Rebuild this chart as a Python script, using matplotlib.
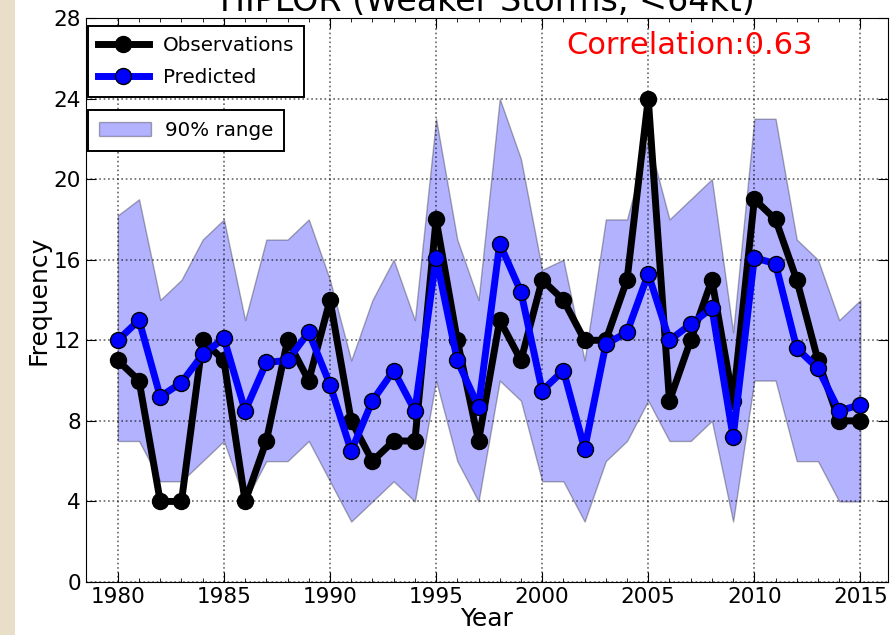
import matplotlib
matplotlib.use("Agg")
from matplotlib import pyplot as plt
from matplotlib.patches import Rectangle

years = list(range(1980, 2016))

observed = [11, 10, 4, 4, 12, 11, 4, 7, 12, 10,
            14, 8, 6, 7, 7, 18, 12, 7, 13, 11,
            15, 14, 12, 12, 15, 24, 9, 12, 15, 9,
            19, 18, 15, 11, 8, 8]

predicted = [12.0, 13.0, 9.2, 9.9, 11.3, 12.1, 8.5, 10.9, 11.0, 12.4,
             9.8, 6.5, 9.0, 10.5, 8.5, 16.1, 11.0, 8.7, 16.8, 14.4,
             9.5, 10.5, 6.6, 11.8, 12.4, 15.3, 12.0, 12.8, 13.6, 7.2,
             16.1, 15.8, 11.6, 10.6, 8.5, 8.8]

upper = [18.2, 19, 14, 15, 17, 18, 13, 17, 17, 18,
         15, 11, 14, 16, 13, 23, 17, 14, 24, 21,
         15.5, 16, 11, 18, 18, 22, 18, 19, 20, 12.4,
         23, 23, 17, 16, 13, 14]

lower = [7, 7, 5, 5, 6, 7, 4, 6, 6, 7,
         5, 3, 4, 5, 4, 10, 6, 4, 10, 9,
         5, 5, 3, 6, 7, 9, 7, 7, 8, 3,
         10, 10, 6, 6, 4, 4]

fig = plt.figure(figsize=(8.91, 6.35), dpi=100, facecolor='white')
# beige strip on the left edge of the screenshot
fig.patches.append(Rectangle((0, 0), 15 / 891, 1, transform=fig.transFigure,
                             facecolor='#e9dfc9', edgecolor='none', zorder=-1))

ax = fig.add_axes([86 / 891, 1 - 582 / 635, (888 - 86) / 891, (582 - 18) / 635])

band = ax.fill_between(years, lower, upper, facecolor='blue', edgecolor='k',
                       alpha=0.3, linewidth=1, zorder=1, label='90% range')
l1, = ax.plot(years, observed, color='k', lw=5, marker='o', ms=11.5,
              mec='k', mfc='k', zorder=3, label='Observations')
l2, = ax.plot(years, predicted, color='blue', lw=5, marker='o', ms=11.5,
              mec='k', mfc='blue', zorder=4, label='Predicted')

ax.set_xlim(1978.5, 2016.3)
ax.set_ylim(0, 28)
ax.set_xticks(range(1980, 2016, 5))
ax.set_xticks(years, minor=True)
ax.set_yticks(range(0, 29, 4))
ax.tick_params(which='both', direction='in', top=True, right=True)
ax.tick_params(which='major', length=7, labelsize=15.5)
ax.tick_params(which='minor', length=3)
ax.grid(True, color='k', linestyle=':', linewidth=1.2, alpha=0.6, zorder=1.5)
ax.set_axisbelow('line')

ax.set_xlabel('Year', fontsize=18, labelpad=0)
ax.set_ylabel('Frequency', fontsize=18, labelpad=2)
ax.set_title('HIPLOR (Weaker Storms, <64kt)', fontsize=24, pad=2)

ax.text(0.752, 0.951, 'Correlation:0.63', color='red', fontsize=22,
        transform=ax.transAxes, ha='center', va='center')

leg1 = ax.legend(handles=[l1, l2], loc='upper left', fontsize=14.3,
                 bbox_to_anchor=(2 / 802, 1 - 8 / 564), borderaxespad=0,
                 handlelength=2.6, fancybox=False, edgecolor='k',
                 framealpha=1, borderpad=0.48, labelspacing=0.68,
                 handletextpad=0.7)
leg1.get_frame().set_linewidth(1.4)
ax.add_artist(leg1)
leg2 = ax.legend(handles=[band], loc='upper left', fontsize=14.3,
                 bbox_to_anchor=(2 / 802, 1 - 92 / 564), borderaxespad=0,
                 handlelength=2.6, fancybox=False, edgecolor='k',
                 framealpha=1, borderpad=0.56, handletextpad=0.7)
leg2.get_frame().set_linewidth(1.4)

fig.savefig('out.png', dpi=100, facecolor='white')
